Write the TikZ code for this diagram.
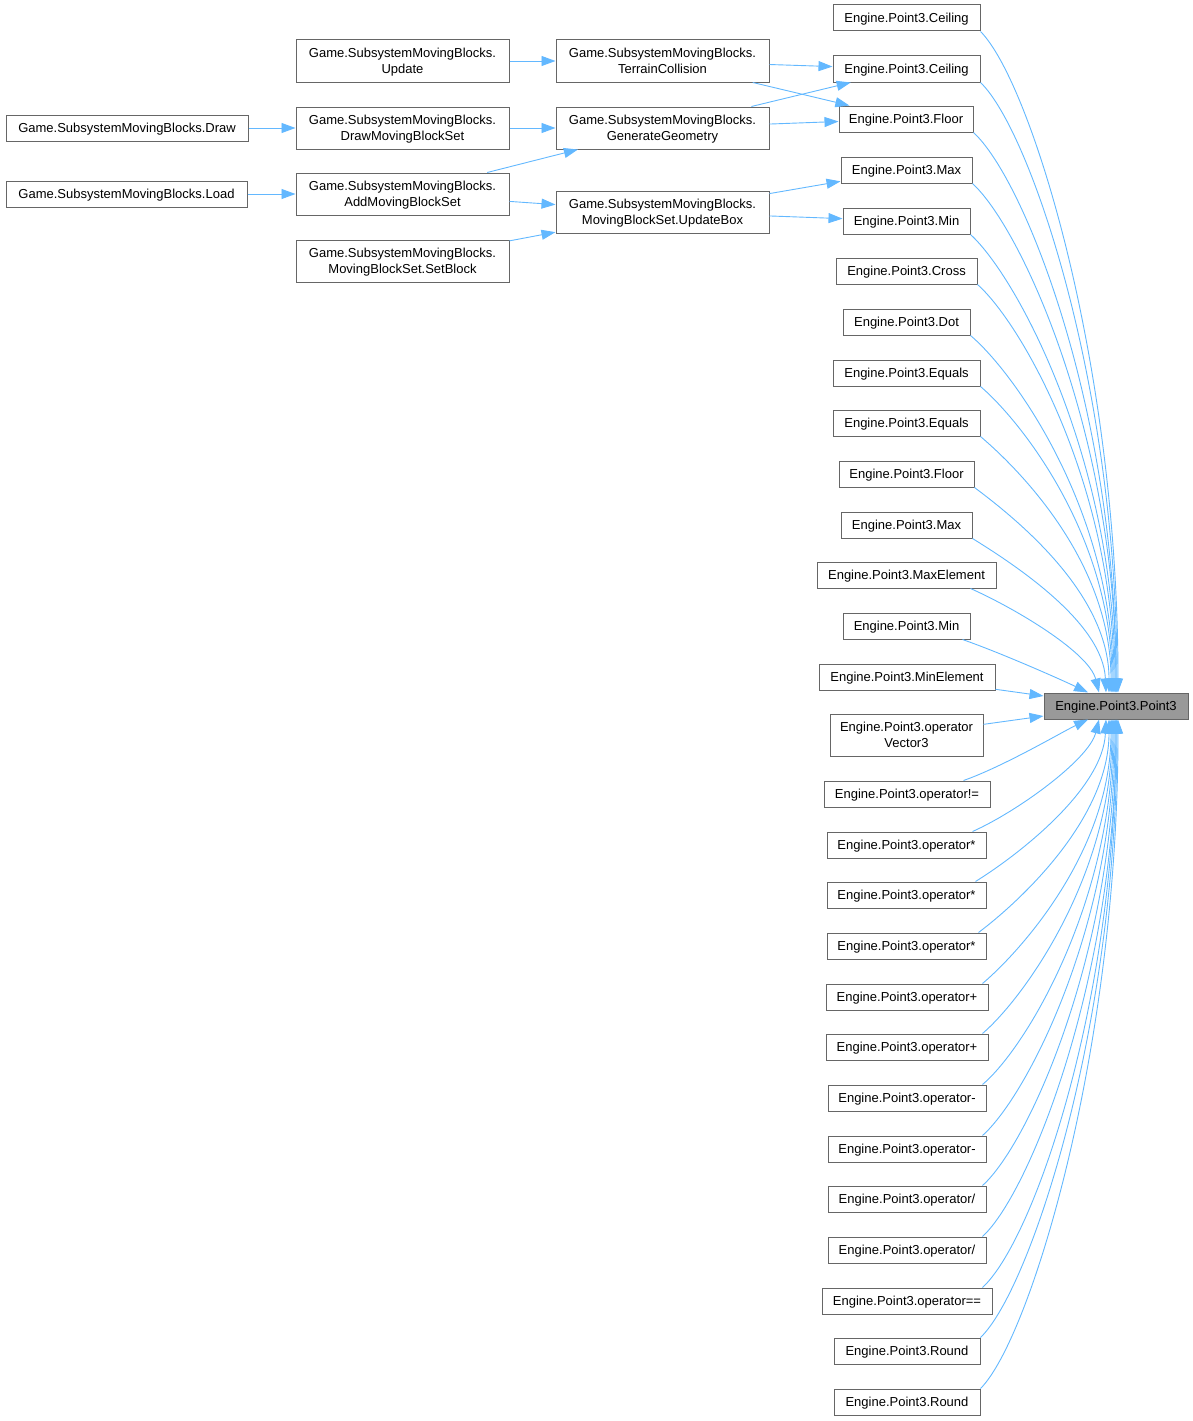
\documentclass[tikz,border=0pt]{standalone}
\usepackage{fontspec}
\setmainfont{Liberation Sans}
\usetikzlibrary{arrows.meta}
\definecolor{edgec}{HTML}{63B8FF}
\definecolor{boxc}{HTML}{666666}
\definecolor{mainfill}{HTML}{999999}
\begin{document}
\begin{tikzpicture}[x=1pt,y=-1pt,
  boxbase/.style={draw=boxc, fill=white, line width=1pt, inner sep=0pt, align=center, font=\fontsize{13}{16}\selectfont, text depth=0pt},
  box/.style={boxbase, minimum height=26pt, text height=9.4pt},
  boxtwo/.style={boxbase, minimum height=42pt},
  mainbox/.style={box, fill=mainfill},
  edge/.style={draw=edgec, line width=0.9pt, -{Triangle[length=14pt,width=10pt]}},
]
\useasboundingbox (0,0) rectangle (1193,1421);

% main node
\node[mainbox, minimum width=144pt] (main) at (1116,706) {Engine.Point3.Point3};

% left part
\node[boxtwo, minimum width=213pt] (upd) at (402.5,61) {Game.SubsystemMovingBlocks.\\Update};
\node[boxtwo, minimum width=213pt] (tc) at (662.5,61) {Game.SubsystemMovingBlocks.\\TerrainCollision};
\node[box, minimum width=242pt] (draw) at (127,128) {Game.SubsystemMovingBlocks.Draw};
\node[boxtwo, minimum width=213pt] (dmbs) at (402.5,128) {Game.SubsystemMovingBlocks.\\DrawMovingBlockSet};
\node[boxtwo, minimum width=213pt] (gg) at (662.5,128) {Game.SubsystemMovingBlocks.\\GenerateGeometry};
\node[box, minimum width=241pt] (load) at (126.5,194) {Game.SubsystemMovingBlocks.Load};
\node[boxtwo, minimum width=213pt] (ambs) at (402.5,194) {Game.SubsystemMovingBlocks.\\AddMovingBlockSet};
\node[boxtwo, minimum width=213pt] (ub) at (662.5,212) {Game.SubsystemMovingBlocks.\\MovingBlockSet.UpdateBox};
\node[boxtwo, minimum width=213pt] (sb) at (402.5,261) {Game.SubsystemMovingBlocks.\\MovingBlockSet.SetBlock};

% right column
\node[box, minimum width=147pt] (r1) at (906.5,18) {Engine.Point3.Ceiling};
\node[box, minimum width=147pt] (r2) at (906.5,69) {Engine.Point3.Ceiling};
\node[box, minimum width=134pt] (r3) at (906,119) {Engine.Point3.Floor};
\node[box, minimum width=131pt] (r4) at (906.5,170) {Engine.Point3.Max};
\node[box, minimum width=127pt] (r5) at (906.5,221) {Engine.Point3.Min};
\node[box, minimum width=141pt] (r6) at (906.5,271) {Engine.Point3.Cross};
\node[box, minimum width=127pt] (r7) at (906.5,322) {Engine.Point3.Dot};
\node[box, minimum width=147pt] (r8) at (906.5,373) {Engine.Point3.Equals};
\node[box, minimum width=147pt] (r9) at (906.5,423) {Engine.Point3.Equals};
\node[box, minimum width=135pt] (r10) at (906.5,474) {Engine.Point3.Floor};
\node[box, minimum width=131pt] (r11) at (906.5,525) {Engine.Point3.Max};
\node[box, minimum width=179pt] (r12) at (906.5,575) {Engine.Point3.MaxElement};
\node[box, minimum width=127pt] (r13) at (906.5,626) {Engine.Point3.Min};
\node[box, minimum width=176pt] (r14) at (907,677) {Engine.Point3.MinElement};
\node[boxtwo, minimum width=153pt] (r15) at (906.5,735) {Engine.Point3.operator\\Vector3};
\node[box, minimum width=166pt] (r16) at (907,794) {Engine.Point3.operator!=};
\node[box, minimum width=159pt] (r17) at (906.5,845) {Engine.Point3.operator*};
\node[box, minimum width=159pt] (r18) at (906.5,895) {Engine.Point3.operator*};
\node[box, minimum width=159pt] (r19) at (906.5,946) {Engine.Point3.operator*};
\node[box, minimum width=162pt] (r20) at (907,997) {Engine.Point3.operator+};
\node[box, minimum width=162pt] (r21) at (907,1047) {Engine.Point3.operator+};
\node[box, minimum width=158pt] (r22) at (907,1098) {Engine.Point3.operator-};
\node[box, minimum width=158pt] (r23) at (907,1149) {Engine.Point3.operator-};
\node[box, minimum width=158pt] (r24) at (907,1199) {Engine.Point3.operator/};
\node[box, minimum width=158pt] (r25) at (907,1250) {Engine.Point3.operator/};
\node[box, minimum width=170pt] (r26) at (907,1301) {Engine.Point3.operator==};
\node[box, minimum width=146pt] (r27) at (907,1351) {Engine.Point3.Round};
\node[box, minimum width=146pt] (r28) at (907,1402) {Engine.Point3.Round};

% left edges
\draw[edge] (upd) -- (tc);
\draw[edge] (tc) -- (r2);
\draw[edge] (tc) -- (r3);
\draw[edge] (draw) -- (dmbs);
\draw[edge] (dmbs) -- (gg);
\draw[edge] (gg) -- (r2);
\draw[edge] (gg) -- (r3);
\draw[edge] (load) -- (ambs);
\draw[edge] (ambs) -- (gg);
\draw[edge] (ambs) -- (ub);
\draw[edge] (sb) -- (ub);
\draw[edge] (ub) -- (r4);
\draw[edge] (ub) -- (r5);

% upper edges into main
\draw[edge] (r1.south east) .. controls +(50,50) and +(0,-330) .. ([xshift=2pt]main.north);
\draw[edge] (r2.south east) .. controls +(50,48) and +(0,-305) .. ([xshift=1pt]main.north);
\draw[edge] (r3.south east) .. controls +(52,48) and +(0,-280) .. (main.north);
\draw[edge] (r4.south east) .. controls +(50,46) and +(0,-255) .. (main.north);
\draw[edge] (r5.south east) .. controls +(48,44) and +(0,-230) .. ([xshift=-1pt]main.north);
\draw[edge] (r6.south east) .. controls +(45,40) and +(0,-205) .. ([xshift=-2pt]main.north);
\draw[edge] (r7.south east) .. controls +(45,38) and +(0,-180) .. ([xshift=-3pt]main.north);
\draw[edge] (r8.south east) .. controls +(42,36) and +(0,-155) .. ([xshift=-4pt]main.north);
\draw[edge] (r9.south east) .. controls +(40,34) and +(0,-130) .. ([xshift=-5pt]main.north);
\draw[edge] (r10.south east) .. controls +(40,30) and +(0,-100) .. ([xshift=-7pt]main.north);
\draw[edge] (r11.south east) .. controls +(42,26) and +(-3,-70) .. ([xshift=-10pt]main.north);
\draw[edge] ([xshift=-26pt]r12.south east) .. controls +(45,20) and +(-10,-40) .. ([xshift=-17pt]main.north);
\draw[edge] ([xshift=-8pt]r13.south east) .. controls +(40,14) and +(-25,-12) .. ([xshift=-28pt]main.north);
\draw[edge] (r14) -- (main);
\draw[edge] (r15) -- (main);

% lower edges into main
\draw[edge] ([xshift=-27pt]r16.north east) .. controls +(40,-14) and +(-25,12) .. ([xshift=-28pt]main.south);
\draw[edge] ([xshift=-14pt]r17.north east) .. controls +(45,-20) and +(-10,40) .. ([xshift=-17pt]main.south);
\draw[edge] ([xshift=-11pt]r18.north east) .. controls +(42,-26) and +(-3,70) .. ([xshift=-10pt]main.south);
\draw[edge] ([xshift=-8pt]r19.north east) .. controls +(40,-30) and +(0,100) .. ([xshift=-7pt]main.south);
\draw[edge] ([xshift=-6pt]r20.north east) .. controls +(40,-34) and +(0,130) .. ([xshift=-5pt]main.south);
\draw[edge] ([xshift=-6pt]r21.north east) .. controls +(42,-36) and +(0,155) .. ([xshift=-4pt]main.south);
\draw[edge] ([xshift=-4pt]r22.north east) .. controls +(45,-38) and +(0,180) .. ([xshift=-3pt]main.south);
\draw[edge] ([xshift=-4pt]r23.north east) .. controls +(45,-40) and +(0,205) .. ([xshift=-2pt]main.south);
\draw[edge] ([xshift=-4pt]r24.north east) .. controls +(47,-42) and +(0,230) .. ([xshift=-1pt]main.south);
\draw[edge] ([xshift=-4pt]r25.north east) .. controls +(48,-44) and +(0,255) .. (main.south);
\draw[edge] ([xshift=-10pt]r26.north east) .. controls +(52,-48) and +(0,280) .. (main.south);
\draw[edge] (r27.north east) .. controls +(50,-48) and +(0,305) .. ([xshift=1pt]main.south);
\draw[edge] (r28.north east) .. controls +(50,-50) and +(0,330) .. ([xshift=2pt]main.south);
\end{tikzpicture}
\end{document}
